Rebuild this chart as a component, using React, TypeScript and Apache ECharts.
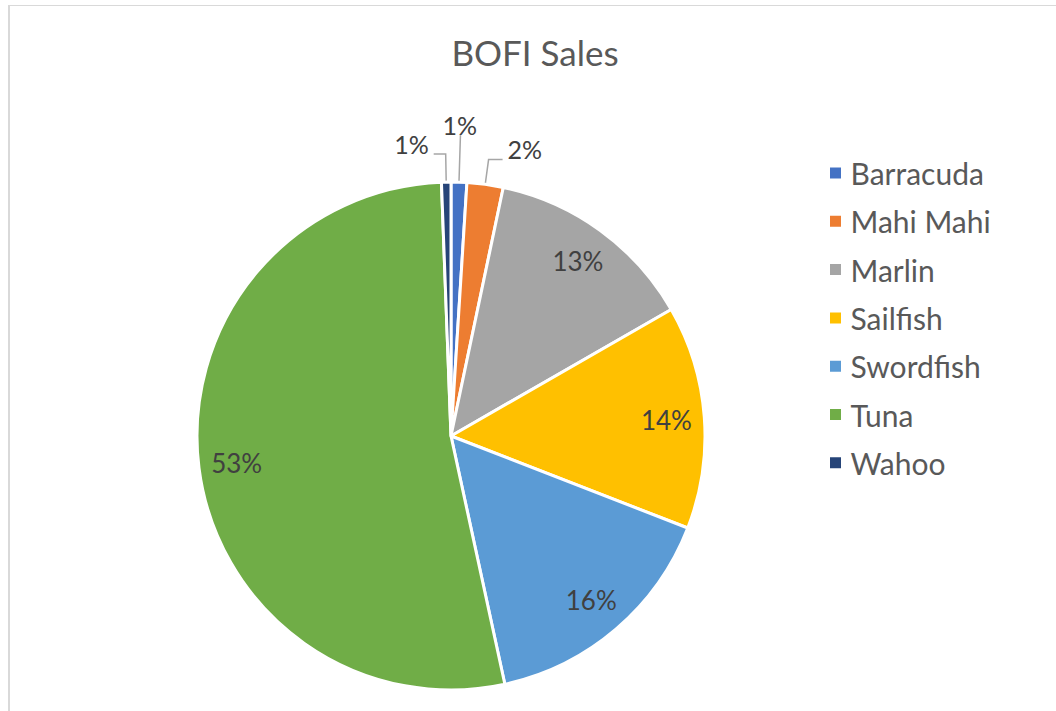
import React, { useEffect, useRef } from 'react';
import * as echarts from 'echarts';

const titleText = 'BOFI Sales';
const categories = ['Barracuda', 'Mahi Mahi', 'Marlin', 'Sailfish', 'Swordfish', 'Tuna', 'Wahoo'];
const values = [1.0, 2.3, 13.4, 14.2, 15.7, 52.8, 0.6];
const colors = ['#4472C4', '#ED7D31', '#A5A5A5', '#FFC000', '#5B9BD5', '#70AD47', '#264478'];

// slices whose labels sit outside with a leader line
const outsideLabel: Record<string, { length: number; length2: number; distance: number }> = {
  Barracuda: { length: 47, length2: 0, distance: -18 },
  'Mahi Mahi': { length: 25, length2: 14, distance: 5 },
  Wahoo: { length: 28, length2: 12, distance: 5 },
};

const FONT = 'Lato, "Open Sans", sans-serif';
const CENTER = [451, 436];
const R = 254;

const fmt = (p: any) => Math.round(p.percent) + '%';
const fmtRaised = (p: any) => Math.round(p.percent) + '%\n';

export default function App() {
  const ref = useRef<HTMLDivElement>(null);
  useEffect(() => {
    if (!ref.current) return;
    const chart = echarts.init(ref.current, undefined, { renderer: 'svg' });
    const mainData = categories.map((name, i) => {
      const o = outsideLabel[name];
      const item: any = { name, value: values[i], itemStyle: { color: colors[i] } };
      if (o) {
        item.label = {
          show: true,
          position: 'outside',
          formatter: fmtRaised,
          fontSize: 25,
          lineHeight: 21,
          fontFamily: FONT,
          color: '#404040',
          distanceToLabelLine: o.distance,
        };
        item.labelLine = {
          show: true,
          length: o.length,
          length2: o.length2,
          minTurnAngle: 0,
          lineStyle: { color: '#A6A6A6', width: 1.5 },
        };
      }
      return item;
    });
    const innerData = categories.map((name, i) => ({
      name,
      value: values[i],
      itemStyle: { color: 'rgba(0,0,0,0)', borderWidth: 0 },
      label: { show: !outsideLabel[name] },
    }));
    chart.setOption({
      animation: false,
      backgroundColor: '#ffffff',
      graphic: [
        { type: 'line', shape: { x1: 9, y1: 5, x2: 9, y2: 711 }, style: { stroke: '#D9D9D9', lineWidth: 2 } },
        { type: 'line', shape: { x1: 8, y1: 5.5, x2: 1056, y2: 5.5 }, style: { stroke: '#D9D9D9', lineWidth: 1 } },
        {
          type: 'text',
          x: 535,
          y: 52,
          style: {
            text: titleText,
            align: 'center',
            verticalAlign: 'middle',
            fontSize: 35,
            fontFamily: FONT,
            fill: '#595959',
          },
        },
      ],
      legend: {
        orient: 'vertical',
        left: 828,
        top: 158,
        padding: 0,
        itemWidth: 20,
        itemHeight: 13,
        itemGap: 18.3,
        icon: 'path://M0 0H10V10H0Z',
        selectedMode: false,
        data: categories,
        textStyle: { fontSize: 30, color: '#595959', fontFamily: FONT, lineHeight: 30 },
      },
      series: [
        {
          type: 'pie',
          name: 'main',
          center: CENTER,
          radius: R,
          startAngle: 90,
          clockwise: true,
          avoidLabelOverlap: false,
          emphasis: { disabled: true },
          itemStyle: { borderColor: '#ffffff', borderWidth: 3 },
          label: { show: false },
          labelLine: { show: false },
          data: mainData,
        },
        {
          type: 'pie',
          name: 'labels',
          center: CENTER,
          radius: [172, R],
          startAngle: 90,
          clockwise: true,
          silent: true,
          legendHoverLink: false,
          avoidLabelOverlap: false,
          emphasis: { disabled: true },
          label: {
            position: 'inside',
            formatter: fmt,
            fontSize: 26,
            fontFamily: FONT,
            color: '#404040',
          },
          labelLine: { show: false },
          data: innerData,
        },
      ],
    });
    return () => chart.dispose();
  }, []);
  return (
    <div
      ref={ref}
      style={{ position: 'fixed', left: 0, top: 0, width: 1056, height: 711, background: '#fff' }}
    />
  );
}
